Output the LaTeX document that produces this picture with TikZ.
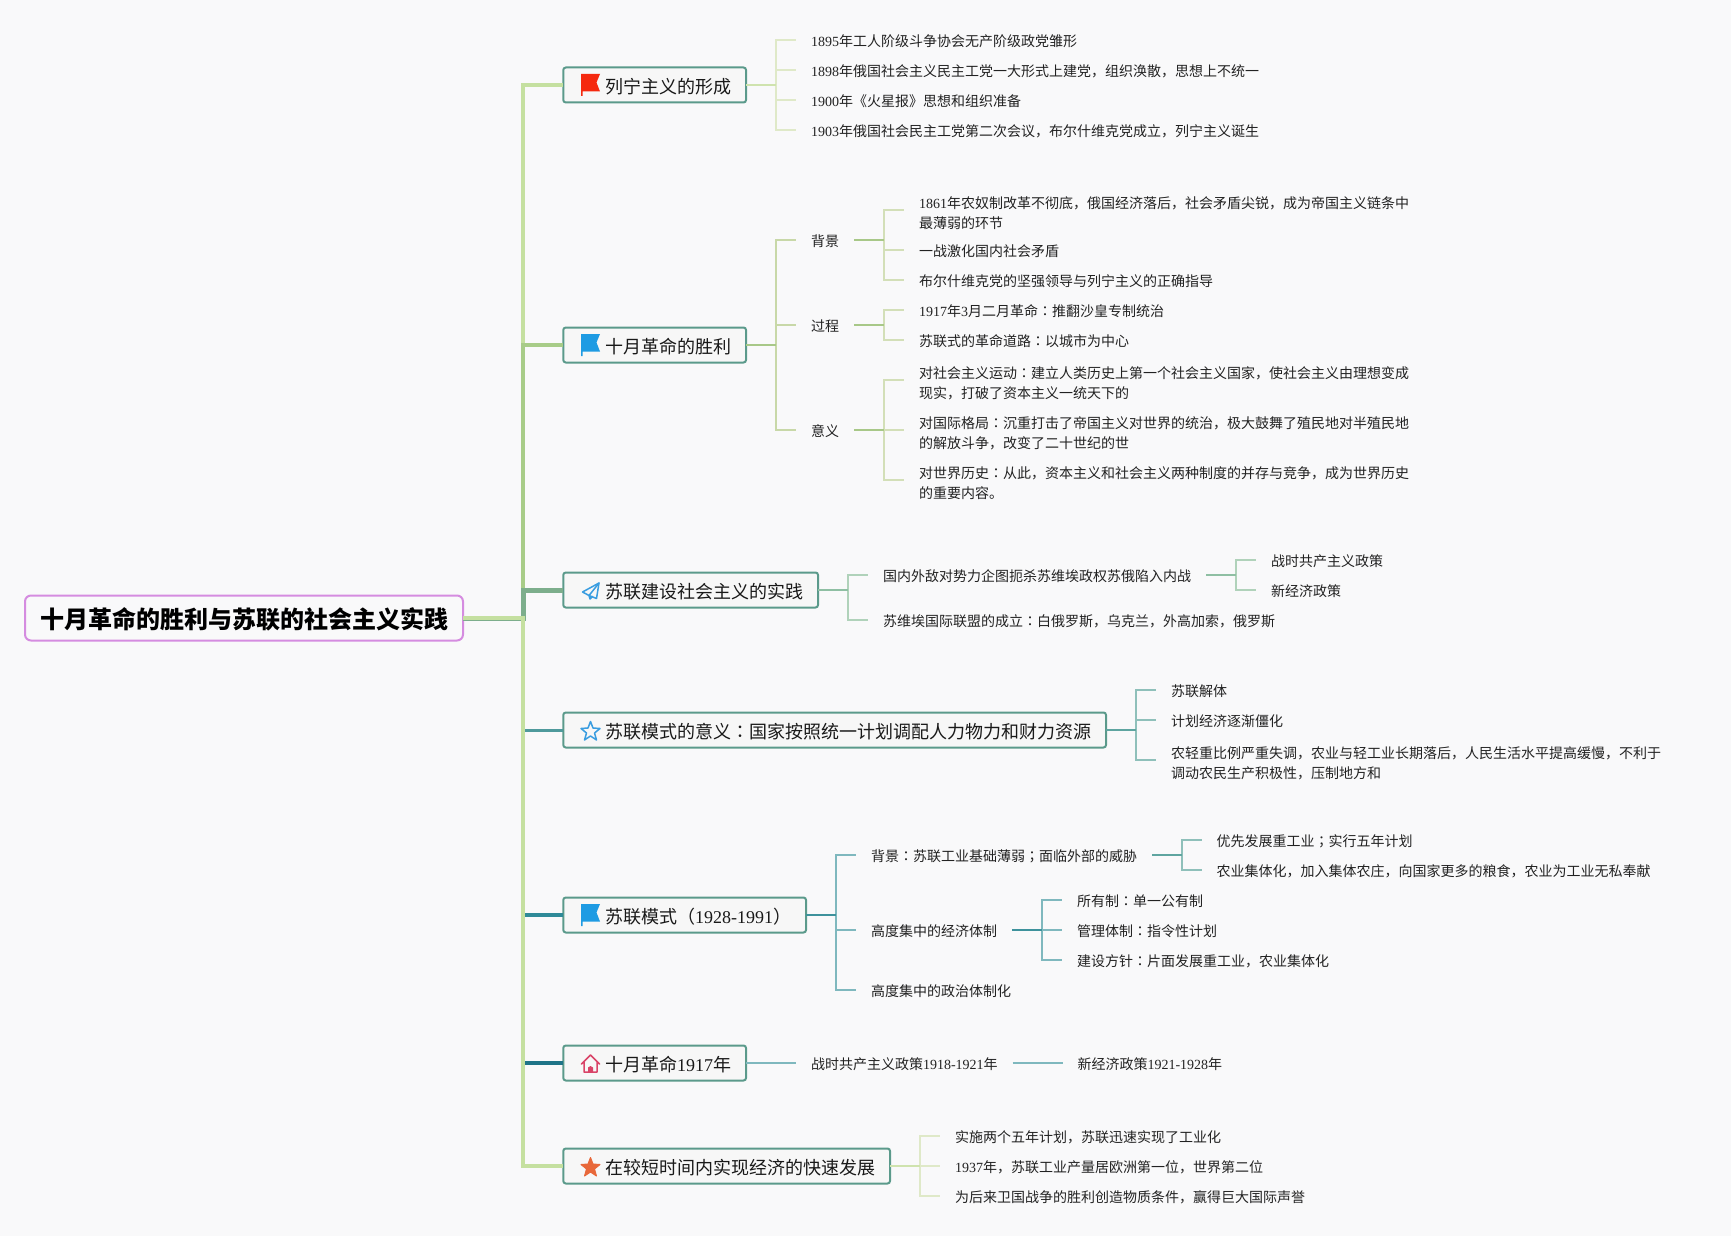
\documentclass[tikz,border=0pt]{standalone}
\usepackage{fontspec}
\setmainfont{Noto Sans CJK SC}
\newfontfamily\latf{Liberation Serif}
\newfontfamily\tcf{Noto Sans CJK TC}
\newcommand\N[1]{{\latf #1}}
\newcommand\Cl{{\tcf ：}}
\newcommand\Sm{{\tcf ；}}
\newcommand\ls{\rule[-3.2pt]{0pt}{20pt}}
\newcommand\lsx{\rule[-3.2pt]{0pt}{22.5pt}}
\newcommand\bs{\rule[-9pt]{0pt}{35pt}}
\newcommand\fan[4]{%
  \foreach \c in {#4}{\draw[stubline,#3] (#1.east) -- ++(30,0) |- (\c.west);}
  \draw[connline,#2] (#1.east) -- ++(30,0);}
\newcommand\flagicon[2]{\fill[#1] (581,#2-11) -- (600,#2-11) -- (596.5,#2-2.5) -- (600,#2+6.5) -- (582.5,#2+6.5) -- (582.5,#2+11) -- (581,#2+11) -- cycle;}
\definecolor{ink}{HTML}{222222}
\definecolor{bg}{HTML}{F9F9FA}
\definecolor{boxbd}{HTML}{5B9A8B}
\definecolor{boxfill}{HTML}{F7F7F7}
\definecolor{rootbd}{HTML}{D58CE0}
\definecolor{HTMLb1}{HTML}{C5E0A0}
\definecolor{HTMLb2}{HTML}{A8CC88}
\definecolor{HTMLb3}{HTML}{7DAE8C}
\definecolor{HTMLb4}{HTML}{4F9A9C}
\definecolor{HTMLb5}{HTML}{2F8A98}
\definecolor{HTMLb6}{HTML}{1F7488}
\definecolor{HTMLgaa}{HTML}{CFE3AE}
\definecolor{HTMLgab}{HTML}{DFE9C8}
\definecolor{HTMLgba}{HTML}{A8C888}
\definecolor{HTMLgbb}{HTML}{C8D8A8}
\definecolor{HTMLgbc}{HTML}{D3DFB8}
\definecolor{HTMLgca}{HTML}{8FBFA3}
\definecolor{HTMLgcb}{HTML}{B0D2BA}
\definecolor{HTMLgda}{HTML}{5FA5A0}
\definecolor{HTMLgdb}{HTML}{8FC0BA}
\definecolor{HTMLgea}{HTML}{3E929C}
\definecolor{HTMLgeb}{HTML}{7FB8BE}
\definecolor{flagred}{HTML}{F5290F}
\definecolor{flagblue}{HTML}{1E9BE3}
\definecolor{iconblue}{HTML}{3A9DE0}
\definecolor{homered}{HTML}{D94468}
\definecolor{starorange}{HTML}{E8683A}
\tikzset{
  x=1pt,y=-1pt,
  leaf/.style={anchor=west,inner xsep=15pt,inner ysep=0pt,outer sep=0pt,align=left,text=ink,
    font=\fontsize{14}{20}\selectfont,execute at begin node=\ls},
  branch/.style={anchor=west,draw=boxbd,line width=2pt,fill=boxfill,rounded corners=2.5pt,inner sep=0pt,outer sep=0pt,
    text=black!90,font=\fontsize{18}{20}\selectfont},
  rootbox/.style={draw=rootbd,line width=2pt,fill=bg,rounded corners=6pt,inner sep=0pt,outer sep=0pt,
    minimum width=438pt,text=black,font=\fontsize{24}{26}\selectfont\bfseries},
  trunkline/.style={line join=miter,line cap=butt},
  stubline/.style={line width=1.8pt,line join=miter},
  connline/.style={line width=2.4pt},
  iconline/.style={line width=1.5pt,line join=round,line cap=round},
}
\begin{document}
\begin{tikzpicture}
\useasboundingbox (0,0) rectangle (1731,1236);
\fill[bg] (0,0) rectangle (1731,1236);
\coordinate (trunk) at (523,0);

\node[rootbox] (root) at (244,618) {\rule[-12pt]{0pt}{45pt}十月革命的胜利与苏联的社会主义实践};
\node[branch] (b1) at (563.3,85) {\bs\hspace*{41.7pt}列宁主义的形成\hspace*{15pt}};
\node[branch] (b2) at (563.3,345) {\bs\hspace*{41.7pt}十月革命的胜利\hspace*{15pt}};
\node[branch] (b3) at (563.3,590) {\bs\hspace*{41.7pt}苏联建设社会主义的实践\hspace*{15pt}};
\node[branch] (b4) at (563.3,730) {\bs\hspace*{41.7pt}苏联模式的意义\Cl 国家按照统一计划调配人力物力和财力资源\hspace*{15pt}};
\node[branch] (b5) at (563.3,915) {\bs\hspace*{41.7pt}苏联模式（\N{1928-1991}）\hspace*{15pt}};
\node[branch] (b6) at (563.3,1063) {\bs\hspace*{41.7pt}十月革命\N{1917}年\hspace*{15pt}};
\node[branch] (b7) at (563.3,1166) {\bs\hspace*{41.7pt}在较短时间内实现经济的快速发展\hspace*{15pt}};

% trunk connectors
\draw[trunkline,line width=4pt,draw=HTMLb6] (root.east) -- (trunk |- root.east) |- (b6.west);
\draw[trunkline,line width=4.4pt,draw=HTMLb5] (root.east) -- (trunk |- root.east) |- (b5.west);
\draw[trunkline,line width=3pt,draw=HTMLb4] (root.east) -- (trunk |- root.east) |- (b4.west);
\draw[trunkline,line width=4pt,draw=HTMLb1] (root.east) -- (trunk |- root.east) |- (b1.west);
\draw[trunkline,line width=3.4pt,draw=HTMLb2] (root.east) -- (trunk |- root.east) |- (b2.west);
\draw[trunkline,line width=5pt,draw=HTMLb3] (root.east) -- (trunk |- root.east) |- (b3.west);
\draw[trunkline,line width=4pt,draw=HTMLb1] (root.east) -- (trunk |- root.east) |- (b7.west);

% group 1
\node[leaf] (a1) at (796,40) {\N{1895}年工人阶级斗争协会无产阶级政党雏形};
\node[leaf] (a2) at (796,70) {\N{1898}年俄国社会主义民主工党一大形式上建党，组织涣散，思想上不统一};
\node[leaf] (a3) at (796,100) {\N{1900}年《火星报》思想和组织准备};
\node[leaf] (a4) at (796,130) {\N{1903}年俄国社会民主工党第二次会议，布尔什维克党成立，列宁主义诞生};
\fan{b1}{draw=HTMLgaa}{draw=HTMLgab}{a1,a2,a3,a4}

% group 2
\node[leaf] (c1) at (796,240) {背景};
\node[leaf] (c2) at (796,325) {过程};
\node[leaf] (c3) at (796,430) {意义};
\fan{b2}{draw=HTMLgba}{draw=HTMLgbb}{c1,c2,c3}
\node[leaf] (d1) at (904,210) {\lsx\N{1861}年农奴制改革不彻底，俄国经济落后，社会矛盾尖锐，成为帝国主义链条中\\\ls 最薄弱的环节};
\node[leaf] (d2) at (904,250) {一战激化国内社会矛盾};
\node[leaf] (d3) at (904,280) {布尔什维克党的坚强领导与列宁主义的正确指导};
\fan{c1}{draw=HTMLgba}{draw=HTMLgbc}{d1,d2,d3}
\node[leaf] (e1) at (904,310) {\N{1917}年\N{3}月二月革命\Cl 推翻沙皇专制统治};
\node[leaf] (e2) at (904,340) {苏联式的革命道路\Cl 以城市为中心};
\fan{c2}{draw=HTMLgba}{draw=HTMLgbc}{e1,e2}
\node[leaf] (f1) at (904,380) {\lsx 对社会主义运动\Cl 建立人类历史上第一个社会主义国家，使社会主义由理想变成\\\ls 现实，打破了资本主义一统天下的};
\node[leaf] (f2) at (904,430) {\lsx 对国际格局\Cl 沉重打击了帝国主义对世界的统治，极大鼓舞了殖民地对半殖民地\\\ls 的解放斗争，改变了二十世纪的世};
\node[leaf] (f3) at (904,480) {\lsx 对世界历史\Cl 从此，资本主义和社会主义两种制度的并存与竞争，成为世界历史\\\ls 的重要内容。};
\fan{c3}{draw=HTMLgba}{draw=HTMLgbc}{f1,f2,f3}

% group 3
\node[leaf] (g1) at (868,575) {国内外敌对势力企图扼杀苏维埃政权苏俄陷入内战};
\node[leaf] (g2) at (868,620) {苏维埃国际联盟的成立\Cl 白俄罗斯，乌克兰，外高加索，俄罗斯};
\fan{b3}{draw=HTMLgca}{draw=HTMLgcb}{g1,g2}
\node[leaf] (h1) at (1256,560) {战时共产主义政策};
\node[leaf] (h2) at (1256,590) {新经济政策};
\fan{g1}{draw=HTMLgca}{draw=HTMLgcb}{h1,h2}

% group 4
\node[leaf] (i1) at (1156,690) {苏联解体};
\node[leaf] (i2) at (1156,720) {计划经济逐渐僵化};
\node[leaf] (i3) at (1156,760) {\lsx 农轻重比例严重失调，农业与轻工业长期落后，人民生活水平提高缓慢，不利于\\\ls 调动农民生产积极性，压制地方和};
\fan{b4}{draw=HTMLgda}{draw=HTMLgdb}{i1,i2,i3}

% group 5
\node[leaf] (j1) at (856,855) {背景\Cl 苏联工业基础薄弱\Sm 面临外部的威胁};
\node[leaf] (j2) at (856,930) {高度集中的经济体制};
\node[leaf] (j3) at (856,990) {高度集中的政治体制化};
\fan{b5}{draw=HTMLgea}{draw=HTMLgeb}{j1,j2,j3}
\node[leaf] (k1) at (1201.5,840) {优先发展重工业\Sm 实行五年计划};
\node[leaf] (k2) at (1201.5,870) {农业集体化，加入集体农庄，向国家更多的粮食，农业为工业无私奉献};
\fan{j1}{draw=HTMLgda}{draw=HTMLgdb}{k1,k2}
\node[leaf] (m1) at (1062,900) {所有制\Cl 单一公有制};
\node[leaf] (m2) at (1062,930) {管理体制\Cl 指令性计划};
\node[leaf] (m3) at (1062,960) {建设方针\Cl 片面发展重工业，农业集体化};
\fan{j2}{draw=HTMLgea}{draw=HTMLgeb}{m1,m2,m3}

% group 6
\node[leaf] (n1) at (796,1063) {战时共产主义政策\N{1918-1921}年};
\node[leaf] (n2) at (1062.5,1063) {新经济政策\N{1921-1928}年};
\draw[stubline,draw=HTMLgeb] (b6.east) -- (n1.west);
\draw[stubline,draw=HTMLgeb] (n1.east) -- (n2.west);

% group 7
\node[leaf] (p1) at (940,1136) {实施两个五年计划，苏联迅速实现了工业化};
\node[leaf] (p2) at (940,1166) {\N{1937}年，苏联工业产量居欧洲第一位，世界第二位};
\node[leaf] (p3) at (940,1196) {为后来卫国战争的胜利创造物质条件，赢得巨大国际声誉};
\fan{b7}{draw=HTMLgaa}{draw=HTMLgab}{p1,p2,p3}

% icons
\flagicon{flagred}{85}
\flagicon{flagblue}{345}
\flagicon{flagblue}{915}
\draw[iconline,draw=iconblue] (599,583) -- (582.5,592) -- (589,595.5) -- (596.5,598.5) -- cycle;
\draw[iconline,draw=iconblue] (599,583) -- (589,595.5) -- (590,599) -- (592.5,596.5);
\draw[iconline,draw=iconblue] (590.5,721.5) -- (593,728) -- (600,728.5) -- (594.5,733) -- (596.5,740) -- (590.5,736) -- (584.5,740) -- (586.5,733) -- (581,728.5) -- (588,728) -- cycle;
\draw[iconline,draw=homered] (581.5,1064) -- (590.5,1055) -- (599.5,1064) (584,1061.5) -- (584,1072) -- (597,1072) -- (597,1061.5);
\fill[homered] (588,1072) -- (588,1067.5) -- (590.5,1066) -- (593,1067.5) -- (593,1072) -- cycle;
\fill[starorange,draw=starorange,line width=1pt,line join=round] (590.5,1157.5) -- (593,1164) -- (600,1164.5) -- (594.5,1169) -- (596.5,1176) -- (590.5,1172) -- (584.5,1176) -- (586.5,1169) -- (581,1164.5) -- (588,1164) -- cycle;
\end{tikzpicture}
\end{document}
